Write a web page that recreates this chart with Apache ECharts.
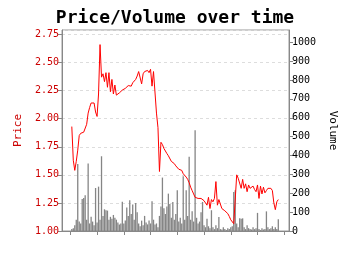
<!DOCTYPE html>
<html>
<head>
<meta charset="utf-8">
<script src="https://cdn.jsdelivr.net/npm/echarts@6/dist/echarts.min.js"></script>
<style>html,body{margin:0;padding:0;background:#fff}#c{width:350px;height:255px}</style>
</head>
<body>
<div id="c"></div>
<script>
const titleText = 'Price/Volume over time';
const priceName = 'Price';
const volumeName = 'Volume';
const priceTicks = [1.00, 1.25, 1.50, 1.75, 2.00, 2.25, 2.50, 2.75];
const volumeTicks = [0, 100, 200, 300, 400, 500, 600, 700, 800, 900, 1000];
const yearTicks = [0, 18, 36, 54, 72, 90, 108, 126, 144];

const price = [
  1.93, 1.63, 1.54, 1.62, 1.72, 1.85, 1.87, 1.86, 1.88, 1.89,
  1.95, 2.05, 2.10, 2.14, 2.15, 2.14, 2.06, 2.02, 2.22, 2.66,
  2.37, 2.40, 2.33, 2.41, 2.28, 2.41, 2.24, 2.35, 2.22, 2.30,
  2.21, 2.22, 2.23, 2.24, 2.255, 2.25, 2.27, 2.28, 2.295, 2.30,
  2.29, 2.32, 2.33, 2.35, 2.38, 2.42, 2.43, 2.31, 2.40, 2.42,
  2.41, 2.43, 2.41, 2.44, 2.29, 2.42, 2.41, 2.05, 1.92, 1.53,
  1.79, 1.77, 1.735, 1.72, 1.69, 1.67, 1.66, 1.62, 1.61, 1.60,
  1.58, 1.575, 1.55, 1.555, 1.54, 1.51, 1.505, 1.48, 1.46, 1.43,
  1.39, 1.36, 1.33, 1.30, 1.31, 1.29, 1.30, 1.29, 1.28, 1.27,
  1.25, 1.23, 1.30, 1.20, 1.28, 1.26, 1.29, 1.44, 1.23, 1.28,
  1.24, 1.20, 1.19, 1.18, 1.17, 1.155, 1.13, 1.10, 1.09, 1.065,
  1.05, 1.50, 1.47, 1.48, 1.38, 1.46, 1.38, 1.42, 1.35, 1.41,
  1.38, 1.37, 1.40, 1.37, 1.35, 1.41, 1.29, 1.40, 1.33, 1.39,
  1.34, 1.36, 1.38, 1.37, 1.38, 1.36, 1.25, 1.19, 1.26, 1.28
];

const volume = [
  10, 15, 30, 60, 355, 50, 40, 170, 175, 190,
  60, 358, 40, 75, 50, 30, 228, 45, 235, 60,
  396, 80, 115, 110, 108, 60, 75, 65, 85, 70,
  60, 45, 35, 40, 155, 40, 55, 125, 80, 163,
  90, 140, 60, 148, 100, 40, 25, 55, 30, 80,
  45, 35, 55, 40, 157, 60, 35, 40, 20, 80,
  130, 283, 120, 90, 130, 198, 143, 70, 154, 60,
  90, 216, 50, 70, 40, 290, 60, 216, 80, 393,
  60, 105, 50, 534, 70, 40, 50, 100, 154, 30,
  20, 65, 25, 15, 110, 20, 10, 30, 15, 74,
  10, 8, 20, 10, 5, 15, 10, 20, 25, 207,
  216, 40, 20, 67, 65, 67, 20, 10, 30, 15,
  10, 8, 20, 10, 15, 96, 10, 5, 15, 8,
  10, 104, 20, 10, 15, 25, 10, 20, 10, 62
];

const t = price.map((_, i) => i + 1);
const priceData = t.map((x, i) => [x, price[i]]);
const volumeData = t.map((x, i) => [x, volume[i]]);

const font = 'DejaVu Sans Mono';
const chart = echarts.init(document.getElementById('c'), null, {renderer: 'canvas'});
chart.setOption({
  animation: false,
  backgroundColor: '#fff',
  title: {
    text: titleText, left: 'center', top: 4,
    textStyle: {fontFamily: font, fontSize: 18, fontWeight: 'bold', color: '#000'}
  },
  grid: {left: 62, right: 61, top: 30, bottom: 24, show: true, borderColor: '#999', borderWidth: 1, containLabel: false},
  xAxis: {
    type: 'value', min: -5.6, max: 147.2,
    axisLine: {show: true, onZero: false, lineStyle: {color: '#888'}},
    axisTick: {show: true, length: 4, lineStyle: {color: '#888'}, customValues: yearTicks},
    axisLabel: {show: false},
    splitLine: {show: false}
  },
  yAxis: [
    {
      type: 'value', min: priceTicks[0], max: 2.79, interval: 0.25, position: 'left',
      name: priceName, nameLocation: 'middle', nameGap: 38,
      nameTextStyle: {fontFamily: font, fontSize: 11, color: '#cc0000'},
      axisLine: {show: true, onZero: false, lineStyle: {color: '#888'}},
      axisTick: {show: true, length: 4, lineStyle: {color: '#888'}},
      axisLabel: {fontFamily: font, fontSize: 10, color: '#cc0000', margin: 3, showMaxLabel: false,
        formatter: v => priceTicks.some(p => Math.abs(p - v) < 1e-9) ? v.toFixed(2) : ''},
      splitLine: {show: true, lineStyle: {color: '#dddddd', type: [3, 3], width: 1}}
    },
    {
      type: 'value', min: volumeTicks[0], max: 1065, interval: 100, position: 'right',
      name: volumeName, nameLocation: 'middle', nameGap: 35, nameRotate: -90,
      nameTextStyle: {fontFamily: font, fontSize: 11, color: '#000'},
      axisLine: {show: true, onZero: false, lineStyle: {color: '#888'}},
      axisTick: {show: true, length: 4, lineStyle: {color: '#888'}},
      axisLabel: {fontFamily: font, fontSize: 10, color: '#000', margin: 3, showMaxLabel: false,
        formatter: v => volumeTicks.indexOf(v) >= 0 ? String(v) : ''},
      splitLine: {show: false}
    }
  ],
  series: [
    {
      type: 'bar', yAxisIndex: 1, data: volumeData, barWidth: 1.3,
      itemStyle: {color: '#858585'}, z: 1, silent: true
    },
    {
      type: 'line', yAxisIndex: 0, data: priceData, showSymbol: false, symbol: 'none',
      lineStyle: {color: '#ff0000', width: 1}, z: 3, silent: true
    }
  ]
});
</script>
</body>
</html>
